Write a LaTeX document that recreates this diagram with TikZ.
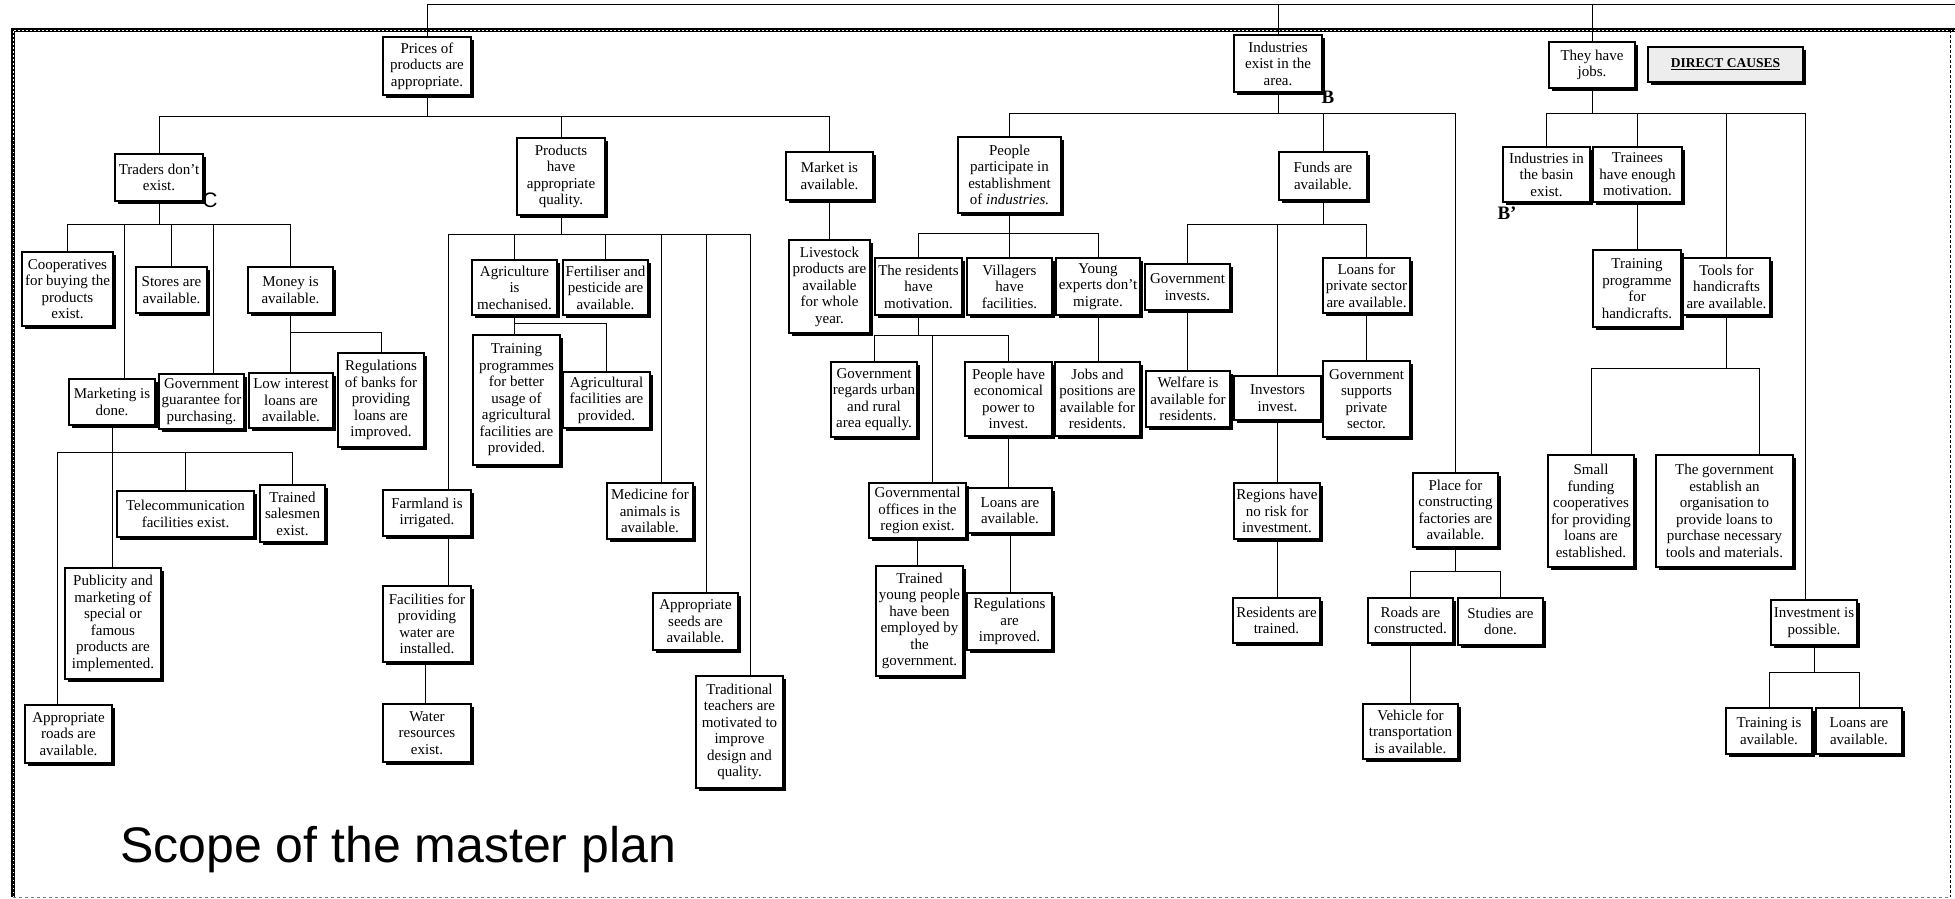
\documentclass[tikz,border=0pt]{standalone}
\usepackage{fontspec}
\setmainfont{Liberation Serif}
\newfontfamily\sansfam{Liberation Sans}
\usetikzlibrary{shadows}

\tikzset{
  box/.style={draw, line width=1.1pt, fill=white, align=center, inner sep=1pt,
    font=\fontsize{15}{16.5}\selectfont,
    drop shadow={shadow xshift=2.8pt, shadow yshift=-2.8pt, opacity=1, fill=black}},
  conn/.style={draw, line width=0.9pt},
  tag/.style={inner sep=0pt, font=\bfseries\fontsize{19}{19}\selectfont},
}

% \placebox{name}{left}{top}{right}{bottom}{text}
\newcommand\placebox[6]{%
  \node[box, minimum width={#4-#2}, minimum height={#5-#3}] (#1)
    at ({(#2+#4)/2},{(#3+#5)/2}) {#6};}

\begin{document}
\begin{tikzpicture}[x=1pt, y=-1pt]
\useasboundingbox (0,0) rectangle (1955,899);

% frame
\draw[line width=3.5pt] (13,897) -- (13,30) -- (1955,30);
\draw[white, line width=0.8pt, dash pattern=on 1.5pt off 2.5pt] (13,897) -- (13,30) -- (1955,30);
\draw[line width=0.6pt, dash pattern=on 3pt off 2pt] (1950,30) -- (1950,897);
\draw[line width=0.5pt, gray, dash pattern=on 3pt off 3pt] (13,897) -- (1950,897);

% ---------- branch: prices ----------
\placebox{prices}{383}{37}{471}{95}{Prices of\\products are\\appropriate.}
\placebox{traders}{115}{154}{203}{201}{Traders don't\\exist.}
\placebox{products}{517}{138}{605}{215}{Products\\have\\appropriate\\quality.}
\placebox{market}{786}{152}{873}{200}{Market is\\available.}
\placebox{coop}{22}{252}{113}{326}{Cooperatives\\for buying the\\products\\exist.}
\placebox{stores}{136}{267}{207}{313}{Stores are\\available.}
\placebox{money}{248}{267}{333}{313}{Money is\\available.}
\placebox{marketing}{69}{379}{155}{425}{Marketing is\\done.}
\placebox{govguar}{159}{374}{244}{429}{Government\\guarantee for\\purchasing.}
\placebox{lowint}{249}{373}{333}{428}{Low interest\\loans are\\available.}
\placebox{regbanks}{338}{353}{424}{447}{Regulations\\of banks for\\providing\\loans are\\improved.}
\placebox{telecom}{117}{491}{254}{537}{Telecommunication\\facilities exist.}
\placebox{salesmen}{260}{485}{325}{542}{Trained\\salesmen\\exist.}
\placebox{publicity}{65}{568}{161}{679}{Publicity and\\marketing of\\special or\\famous\\products are\\implemented.}
\placebox{roads}{25}{705}{112}{763}{Appropriate\\roads are\\available.}
\placebox{farmland}{383}{490}{471}{536}{Farmland is\\irrigated.}
\placebox{facil}{383}{586}{471}{662}{Facilities for\\providing\\water are\\installed.}
\placebox{water}{383}{704}{471}{762}{Water\\resources\\exist.}
\placebox{agri}{472}{260}{557}{315}{Agriculture\\is\\mechanised.}
\placebox{fert}{563}{260}{648}{315}{Fertiliser and\\pesticide are\\available.}
\placebox{training}{473}{335}{560}{465}{Training\\programmes\\for better\\usage of\\agricultural\\facilities are\\provided.}
\placebox{agfac}{563}{372}{650}{428}{Agricultural\\facilities are\\provided.}
\placebox{medicine}{607}{483}{693}{539}{Medicine for\\animals is\\available.}
\placebox{seeds}{653}{593}{738}{650}{Appropriate\\seeds are\\available.}
\placebox{traditional}{696}{676}{783}{788}{Traditional\\teachers are\\motivated to\\improve\\design and\\quality.}
\placebox{livestock}{789}{240}{870}{333}{Livestock\\products are\\available\\for whole\\year.}

% ---------- branch: industries ----------
\placebox{industries}{1234}{35}{1322}{92}{Industries\\exist in the\\area.}
\placebox{people}{958}{137}{1061}{213}{People\\participate in\\establishment\\of \textit{industries.}}
\placebox{funds}{1279}{152}{1367}{200}{Funds are\\available.}
\placebox{place}{1413}{473}{1498}{547}{Place for\\constructing\\factories are\\available.}
\placebox{residents}{875}{258}{962}{315}{The residents\\have\\motivation.}
\placebox{villagers}{967}{258}{1052}{315}{Villagers\\have\\facilities.}
\placebox{young}{1056}{258}{1140}{315}{Young\\experts don't\\migrate.}
\placebox{govreg}{831}{362}{917}{437}{Government\\regards urban\\and rural\\area equally.}
\placebox{econ}{965}{362}{1052}{436}{People have\\economical\\power to\\invest.}
\placebox{jobspos}{1055}{362}{1140}{436}{Jobs and\\positions are\\available for\\residents.}
\placebox{govoff}{869}{483}{966}{538}{Governmental\\offices in the\\region exist.}
\placebox{loansA}{968}{488}{1052}{533}{Loans are\\available.}
\placebox{trainedyoung}{876}{566}{963}{676}{Trained\\young people\\have been\\employed by\\the\\government.}
\placebox{regimpr}{967}{593}{1052}{650}{Regulations\\are\\improved.}
\placebox{govinv}{1145}{264}{1230}{310}{Government\\invests.}
\placebox{welfare}{1146}{371}{1230}{427}{Welfare is\\available for\\residents.}
\placebox{investors}{1234}{376}{1321}{420}{Investors\\invest.}
\placebox{regions}{1234}{483}{1320}{539}{Regions have\\no risk for\\investment.}
\placebox{restrained}{1233}{598}{1320}{643}{Residents are\\trained.}
\placebox{loanspriv}{1323}{258}{1410}{313}{Loans for\\private sector\\are available.}
\placebox{govsup}{1323}{361}{1410}{437}{Government\\supports\\private\\sector.}
\placebox{roadscon}{1368}{598}{1453}{643}{Roads are\\constructed.}
\placebox{studies}{1458}{598}{1543}{645}{Studies are\\done.}
\placebox{vehicle}{1363}{704}{1458}{759}{Vehicle for\\transportation\\is available.}

% ---------- branch: jobs ----------
\placebox{jobs}{1549}{42}{1635}{88}{They have\\jobs.}
\node[box, fill=black!7, font=\bfseries\fontsize{13.5}{15}\selectfont,
  minimum width=155, minimum height=35] (direct) at (1725.5,64.5) {\underline{DIRECT CAUSES}};
\placebox{basin}{1503}{147}{1590}{202}{Industries in\\the basin\\exist.}
\placebox{trainees}{1593}{147}{1682}{202}{Trainees\\have enough\\motivation.}
\placebox{trprog}{1593}{250}{1681}{327}{Training\\programme\\for\\handicrafts.}
\placebox{tools}{1683}{258}{1770}{315}{Tools for\\handicrafts\\are available.}
\placebox{small}{1548}{455}{1634}{567}{Small\\funding\\cooperatives\\for providing\\loans are\\established.}
\placebox{govest}{1656}{455}{1793}{567}{The government\\establish an\\organisation to\\provide loans to\\purchase necessary\\tools and materials.}
\placebox{invposs}{1771}{600}{1857}{645}{Investment is\\possible.}
\placebox{trainavail}{1726}{708}{1812}{754}{Training is\\available.}
\placebox{loansB}{1816}{708}{1902}{754}{Loans are\\available.}

% letter marks
\node[inner sep=0pt, font=\sansfam\fontsize{21}{21}\selectfont] (markC) at (210,200) {C};
\node[tag] (markB) at (1328,97) {B};
\node[tag] (markBp) at (1507,213) {B'};

% title
\node[anchor=base west, inner sep=0pt, font=\sansfam\fontsize{50}{52}\selectfont]
  (scope) at (120,862) {Scope of the master plan};

% ---------- connectors ----------
\coordinate (topY) at (0,4);
\coordinate (topEnd) at (1955,4);
\draw[conn] (prices.north) |- (topEnd);
\draw[conn] (industries.north) -- (industries.north |- topY);
\draw[conn] (jobs.north) -- (jobs.north |- topY);

% prices
\coordinate (yA) at (0,116);
\draw[conn] (prices.south) -- (prices.south |- yA);
\draw[conn] (traders.north) |- (market.north |- yA) -- (market.north);
\draw[conn] (products.north) -- (products.north |- yA);

% traders
\coordinate (yB) at (0,224);
\draw[conn] (traders.south) -- (traders.south |- yB);
\draw[conn] (coop.north) |- (money.north |- yB) -- (money.north);
\draw[conn] (stores.north) -- (stores.north |- yB);
\draw[conn] ([xshift=12pt]marketing.north) -- ([xshift=12pt]marketing.north |- yB);
\draw[conn] ([xshift=11.5pt]govguar.north) -- ([xshift=11.5pt]govguar.north |- yB);

% money
\coordinate (yC) at (0,332);
\draw[conn] (money.south) -- (money.south |- lowint.north);
\draw[conn] (money.south |- yC) -| (regbanks.north);

% marketing
\coordinate (yD) at (0,452);
\draw[conn] (marketing.south) -- (marketing.south |- publicity.north);
\draw[conn] ([xshift=-11.5pt]roads.north) |- (salesmen.north |- yD) -- (salesmen.north);
\draw[conn] (telecom.north) -- (telecom.north |- yD);

% products
\coordinate (yE) at (0,234);
\draw[conn] (products.south) -- (products.south |- yE);
\draw[conn] ([xshift=21pt]farmland.north) |- ([xshift=10.5pt]traditional.north |- yE)
  -- ([xshift=10.5pt]traditional.north);
\draw[conn] (agri.north) -- (agri.north |- yE);
\draw[conn] (fert.north) -- (fert.north |- yE);
\draw[conn] ([xshift=11pt]medicine.north) -- ([xshift=11pt]medicine.north |- yE);
\draw[conn] ([xshift=10.5pt]seeds.north) -- ([xshift=10.5pt]seeds.north |- yE);

% agriculture
\coordinate (yF) at (0,323);
\draw[conn] (agri.south) -- (agri.south |- training.north);
\draw[conn] (agri.south |- yF) -| (agfac.north);

% irrigation
\draw[conn] ([xshift=21pt]farmland.south) -- ([xshift=21pt]facil.north);
\draw[conn] ([xshift=-2pt]facil.south) -- ([xshift=-2pt]water.north);

% market
\draw[conn] (market.south) -- (livestock.north);

% industries
\coordinate (yG) at (0,113);
\draw[conn] (industries.south) -- (industries.south |- yG);
\draw[conn] (people.north) |- (place.north |- yG) -- (place.north);
\draw[conn] (funds.north) -- (funds.north |- yG);

% people
\coordinate (yH) at (0,233);
\draw[conn] (people.south) -- (people.south |- villagers.north);
\draw[conn] (residents.north) |- (young.north |- yH) -- (young.north);

% residents
\coordinate (yI) at (0,335);
\draw[conn] (residents.south) -- (residents.south |- yI);
\draw[conn] (govreg.north) |- (econ.north |- yI) -- (econ.north);
\draw[conn] ([xshift=14.5pt]govoff.north) -- ([xshift=14.5pt]govoff.north |- yI);
\draw[conn] (econ.south) -- (econ.south |- loansA.north);
\draw[conn] (loansA.south) -- (loansA.south |- regimpr.north);
\draw[conn] (govoff.south) -- (govoff.south |- trainedyoung.north);
\draw[conn] (young.south) -- (young.south |- jobspos.north);

% funds
\coordinate (yJ) at (0,224);
\draw[conn] (funds.south) -- (funds.south |- yJ);
\draw[conn] (govinv.north) |- (loanspriv.north |- yJ) -- (loanspriv.north);
\draw[conn] (investors.north) -- (investors.north |- yJ);
\draw[conn] (govinv.south) -- (govinv.south |- welfare.north);
\draw[conn] (investors.south) -- (investors.south |- regions.north);
\draw[conn] (regions.south) -- (regions.south |- restrained.north);
\draw[conn] (loanspriv.south) -- (govsup.north);

% place
\coordinate (yK) at (0,571);
\draw[conn] (place.south) -- (place.south |- yK);
\draw[conn] (roadscon.north) |- (studies.north |- yK) -- (studies.north);
\draw[conn] (roadscon.south) -- (roadscon.south |- vehicle.north);

% jobs
\coordinate (yL) at (0,113);
\draw[conn] (jobs.south) -- (jobs.south |- yL);
\draw[conn] (basin.north) |- ([xshift=-9pt]invposs.north |- yL) -- ([xshift=-9pt]invposs.north);
\draw[conn] (trainees.north) -- (trainees.north |- yL);
\draw[conn] (tools.north) -- (tools.north |- yL);
\draw[conn] (trainees.south) -- (trainees.south |- trprog.north);

% tools
\coordinate (yM) at (0,368);
\draw[conn] (tools.south) -- (tools.south |- yM);
\draw[conn] (small.north) |- ([xshift=34.5pt]govest.north |- yM) -- ([xshift=34.5pt]govest.north);

% investment
\coordinate (yN) at (0,672);
\draw[conn] (invposs.south) -- (invposs.south |- yN);
\draw[conn] (trainavail.north) |- (loansB.north |- yN) -- (loansB.north);

\end{tikzpicture}
\end{document}
